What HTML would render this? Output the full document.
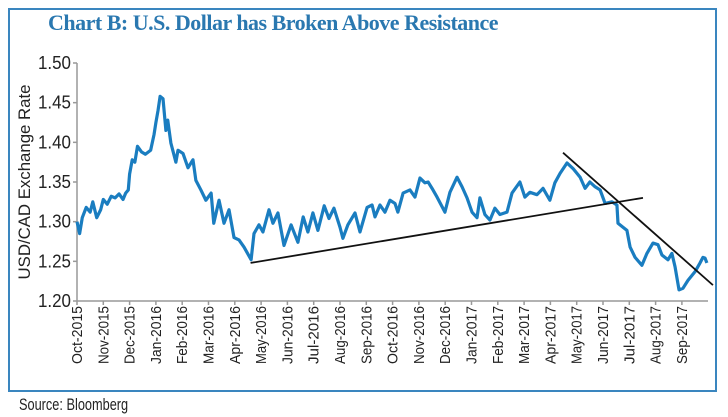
<!DOCTYPE html>
<html><head><meta charset="utf-8"><style>
body{margin:0;background:#fff;width:728px;height:417px;overflow:hidden;font-family:"Liberation Sans",sans-serif}
#box{position:absolute;left:8px;top:8px;width:709px;height:384px;border:2px solid #3a86bf;box-sizing:border-box}
#title{position:absolute;left:48px;top:10px;font:bold 22px "Liberation Serif",serif;color:#2a78b0;letter-spacing:-0.5px}
#src{position:absolute;left:19px;top:395px;font:17px "Liberation Sans",sans-serif;color:#222;transform:scaleX(0.75);transform-origin:left}
</style></head><body>
<div id="box"></div>
<div id="title">Chart B: U.S. Dollar has Broken Above Resistance</div>
<div id="src">Source: Bloomberg</div>
<svg id="c" width="728" height="417" style="position:absolute;left:0;top:0"></svg>
<script>
const monthLabels=["Oct-2015","Nov-2015","Dec-2015","Jan-2016","Feb-2016","Mar-2016","Apr-2016","May-2016","Jun-2016","Jul-2016","Aug-2016","Sep-2016","Oct-2016","Nov-2016","Dec-2016","Jan-2017","Feb-2017","Mar-2017","Apr-2017","May-2017","Jun-2017","Jul-2017","Aug-2017","Sep-2017"];
const yTicks=[1.20,1.25,1.30,1.35,1.40,1.45,1.50];
// time in months since Oct-2015
const times=[0,0.1,0.2,0.35,0.5,0.6,0.75,0.9,1.0,1.15,1.3,1.45,1.6,1.75,1.85,1.95,2.0,2.1,2.2,2.3,2.45,2.6,2.8,2.93,3.0,3.08,3.16,3.27,3.38,3.45,3.57,3.76,3.84,4.03,4.22,4.41,4.52,4.71,4.9,5.1,5.2,5.4,5.59,5.78,5.97,6.16,6.35,6.62,6.73,6.92,7.07,7.3,7.45,7.64,7.87,8.14,8.4,8.6,8.78,8.97,9.16,9.4,9.58,9.77,10.0,10.11,10.3,10.57,10.76,11.03,11.22,11.33,11.52,11.71,11.9,12.09,12.2,12.4,12.66,12.85,13.04,13.23,13.35,13.5,13.69,13.99,14.18,14.45,14.64,14.83,15.02,15.21,15.32,15.51,15.7,15.89,16.08,16.35,16.54,16.84,17.03,17.22,17.49,17.72,17.98,18.17,18.37,18.63,18.86,19.13,19.32,19.5,19.7,19.89,20.08,20.34,20.53,20.57,20.76,20.91,21.03,21.22,21.48,21.67,21.9,22.09,22.24,22.47,22.62,22.74,22.89,23.04,23.23,23.5,23.69,23.8,23.88,23.95];
const values=[1.300,1.285,1.305,1.318,1.312,1.325,1.305,1.315,1.328,1.322,1.332,1.330,1.335,1.328,1.336,1.340,1.360,1.378,1.375,1.395,1.388,1.385,1.390,1.410,1.425,1.440,1.458,1.455,1.415,1.428,1.399,1.375,1.390,1.386,1.368,1.378,1.352,1.340,1.327,1.336,1.298,1.327,1.298,1.315,1.280,1.277,1.268,1.252,1.285,1.296,1.287,1.315,1.298,1.311,1.270,1.296,1.274,1.306,1.287,1.311,1.289,1.320,1.304,1.317,1.293,1.279,1.296,1.311,1.287,1.318,1.321,1.306,1.321,1.312,1.327,1.323,1.312,1.336,1.340,1.331,1.355,1.349,1.350,1.342,1.331,1.312,1.337,1.356,1.344,1.330,1.312,1.305,1.330,1.309,1.302,1.317,1.309,1.312,1.336,1.350,1.331,1.337,1.334,1.342,1.327,1.349,1.361,1.374,1.367,1.356,1.342,1.350,1.344,1.340,1.323,1.325,1.321,1.298,1.293,1.289,1.268,1.255,1.245,1.260,1.273,1.271,1.258,1.252,1.260,1.243,1.214,1.216,1.226,1.237,1.248,1.255,1.254,1.248];
const supportLine=[[6.6,1.248],[21.52,1.330]];
const resistLine=[[18.48,1.387],[24.18,1.220]];
const X0=77,MW=26.3,Y0=301,YT=63,VMIN=1.20,VMAX=1.50;
const xs=t=>X0+t*MW;
const ys=v=>Y0-(v-VMIN)/(VMAX-VMIN)*(Y0-YT);
const svg=document.getElementById('c');const NS='http://www.w3.org/2000/svg';
function mk(tag,attrs,parent){const e=document.createElementNS(NS,tag);for(const k in attrs)e.setAttribute(k,attrs[k]);(parent||svg).appendChild(e);return e;}
const ax=mk('line',{x1:X0,y1:YT,x2:X0,y2:Y0,stroke:'#999','stroke-width':1.5});


const bx=mk('line',{x1:X0,y1:Y0,x2:708,y2:Y0,stroke:'#999','stroke-width':1.5});


yTicks.forEach(v=>{const y=ys(v);
const tk=mk('line',{x1:X0-4,y1:y,x2:X0,y2:y,stroke:'#999','stroke-width':1.5});


const t=mk('text',{x:X0-6,y:y+6,'text-anchor':'end','font-size':18,fill:'#222',textLength:33,lengthAdjust:'spacingAndGlyphs'});t.textContent=v.toFixed(2);

});
monthLabels.forEach((m,i)=>{const x=xs(i);
const tk=mk('line',{x1:x,y1:Y0,x2:x,y2:Y0+4,stroke:'#999','stroke-width':1.5});


const t=mk('text',{x:0,y:0,'text-anchor':'end','font-size':15,fill:'#222',transform:`translate(${x+5},${Y0+5}) rotate(-90)`,textLength:m.length>8?64:58,lengthAdjust:'spacingAndGlyphs'});t.textContent=m;

});
const yl=mk('text',{x:0,y:0,'text-anchor':'middle','font-size':17,fill:'#222',transform:`translate(30,${(YT+Y0)/2}) rotate(-90)`,textLength:195,lengthAdjust:'spacingAndGlyphs'});yl.textContent='USD/CAD Exchange Rate';


const p=mk('polyline',{points:times.map((t,i)=>xs(t)+','+ys(values[i])).join(' '),fill:'none',stroke:'#1a7dc0','stroke-width':3.2,'stroke-linejoin':'round'});


[[supportLine,'support-trendline'],[resistLine,'resistance-trendline']].forEach(([l,n])=>{
const e=mk('line',{x1:xs(l[0][0]),y1:ys(l[0][1]),x2:xs(l[1][0]),y2:ys(l[1][1]),stroke:'#111','stroke-width':1.8});

});
</script>
</body></html>
